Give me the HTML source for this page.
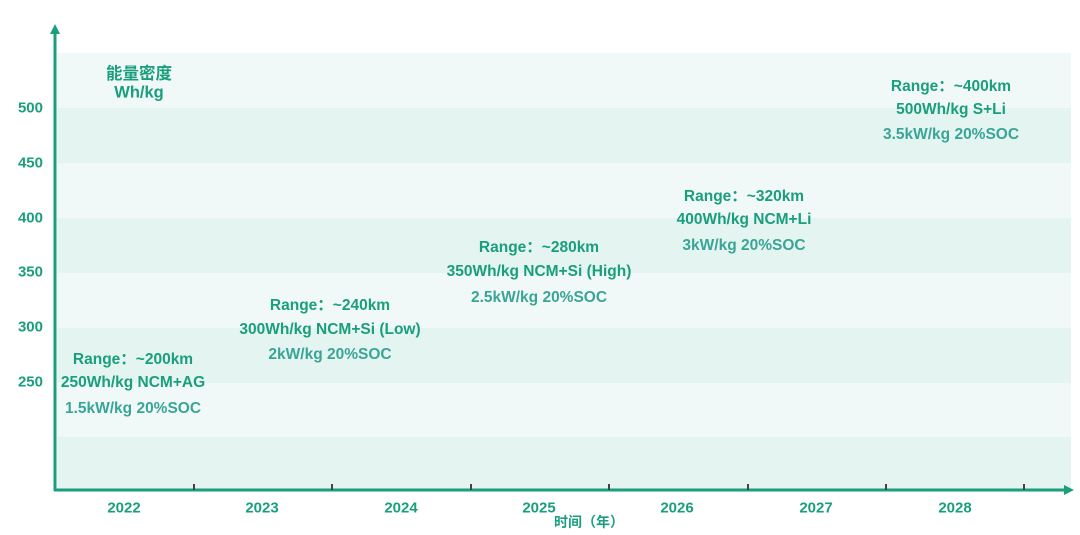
<!DOCTYPE html>
<html><head><meta charset="utf-8"><style>
body{margin:0;width:1080px;height:535px;background:#fff;position:relative;overflow:hidden;font-family:"Liberation Sans","Noto Sans CJK SC",sans-serif;font-weight:bold;color:#1a9e7e}
.b{position:absolute;left:57px;width:1014px}
.t{position:absolute;font-size:15.5px;white-space:nowrap;transform:translate(-50%,-50%)}
.y{position:absolute;right:1037px;font-size:15px;transform:translateY(-50%)}
.l{color:#3aa597}
.tk{position:absolute;top:484px;width:1.5px;height:6px;background:#444}
</style></head><body>
<div class="b" style="top:53px;height:55px;background:#f0f9f7"></div>
<div class="b" style="top:108px;height:55px;background:#e4f4f0"></div>
<div class="b" style="top:163px;height:55px;background:#f0f9f7"></div>
<div class="b" style="top:218px;height:55px;background:#e4f4f0"></div>
<div class="b" style="top:273px;height:55px;background:#f0f9f7"></div>
<div class="b" style="top:328px;height:55px;background:#e4f4f0"></div>
<div class="b" style="top:383px;height:54px;background:#f0f9f7"></div>
<div class="b" style="top:437px;height:53px;background:#e4f4f0"></div>
<svg style="position:absolute;left:0;top:0" width="1080" height="535">
<line x1="55" y1="491" x2="55" y2="32" stroke="#1a9e7e" stroke-width="3"/>
<polygon points="55,24 50,34 60,34" fill="#1a9e7e"/>
<line x1="54" y1="490" x2="1066" y2="490" stroke="#1a9e7e" stroke-width="3"/>
<polygon points="1074,490 1064,485 1064,495" fill="#1a9e7e"/>
</svg>
<div class="tk" style="left:193px"></div><div class="tk" style="left:331px"></div><div class="tk" style="left:470px"></div><div class="tk" style="left:608px"></div><div class="tk" style="left:747px"></div><div class="tk" style="left:885px"></div><div class="tk" style="left:1023px"></div>
<div class="y" style="top:108px">500</div><div class="y" style="top:163px">450</div><div class="y" style="top:218px">400</div><div class="y" style="top:272px">350</div><div class="y" style="top:327px">300</div><div class="y" style="top:382px">250</div>
<div class="t" style="left:139px;top:72px;font-size:16.5px">能量密度</div>
<div class="t" style="left:139px;top:93px;font-size:16.5px">Wh/kg</div>
<div class="t" style="left:124px;top:508px;font-size:15px">2022</div><div class="t" style="left:262px;top:508px;font-size:15px">2023</div><div class="t" style="left:401px;top:508px;font-size:15px">2024</div><div class="t" style="left:539px;top:508px;font-size:15px">2025</div><div class="t" style="left:677px;top:508px;font-size:15px">2026</div><div class="t" style="left:816px;top:508px;font-size:15px">2027</div><div class="t" style="left:955px;top:508px;font-size:15px">2028</div>
<div class="t" style="left:589px;top:522px;font-size:14px">时间（年）</div>
<div class="t" style="left:133px;top:358px">Range：~200km</div>
<div class="t" style="left:133px;top:383px">250Wh/kg NCM+AG</div>
<div class="t l" style="left:133px;top:409px">1.5kW/kg 20%SOC</div>
<div class="t" style="left:330px;top:304px">Range：~240km</div>
<div class="t" style="left:330px;top:330px">300Wh/kg NCM+Si (Low)</div>
<div class="t l" style="left:330px;top:355px">2kW/kg 20%SOC</div>
<div class="t" style="left:539px;top:246px">Range：~280km</div>
<div class="t" style="left:539px;top:272px">350Wh/kg NCM+Si (High)</div>
<div class="t l" style="left:539px;top:298px">2.5kW/kg 20%SOC</div>
<div class="t" style="left:744px;top:195px">Range：~320km</div>
<div class="t" style="left:744px;top:220px">400Wh/kg NCM+Li</div>
<div class="t l" style="left:744px;top:246px">3kW/kg 20%SOC</div>
<div class="t" style="left:951px;top:85px">Range：~400km</div>
<div class="t" style="left:951px;top:110px">500Wh/kg S+Li</div>
<div class="t l" style="left:951px;top:135px">3.5kW/kg 20%SOC</div>
</body></html>
